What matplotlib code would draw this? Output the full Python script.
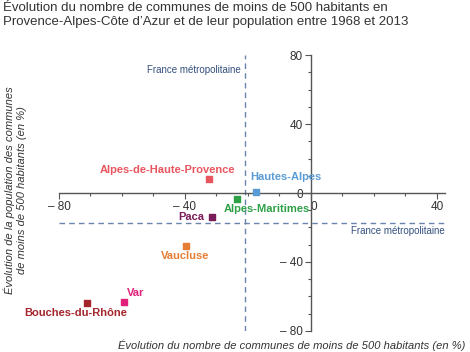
import matplotlib.pyplot as plt
from matplotlib.ticker import MultipleLocator

plt.rcParams['font.family'] = ['Liberation Sans', 'DejaVu Sans']

# data
names = ['Alpes-de-Haute-Provence', 'Hautes-Alpes', 'Alpes-Maritimes', 'Paca',
         'Vaucluse', 'Var', 'Bouches-du-Rhône']
x_vals = [-32.4, -17.5, -23.5, -31.4, -39.8, -59.5, -71.1]
y_vals = [8.1, 0.8, -3.7, -13.9, -30.5, -63.0, -63.6]
colors = ['#e8555e', '#5b9bd5', '#2ea048', '#7a1c58', '#e67e35', '#e0207a', '#a4262c']
# label centres
lab_x = [-45.7, -7.9, -14.0, -37.9, -40.0, -55.8, -74.6]
lab_y = [13.3, 9.4, -9.5, -13.7, -36.5, -58.2, -69.7]

france_x = -21
france_y = -17.4

fig = plt.figure(figsize=(4.7, 3.52), dpi=100)
ax = fig.add_axes([0.1255, 0.0597, 0.821, 0.784])
ax.set_xlim(-80, 42.5)
ax.set_ylim(-80, 80)

dash_col = '#6a84ad'
ax.axvline(france_x, color=dash_col, lw=1, ls=(0, (4, 3)), zorder=1)
ax.axhline(france_y, color=dash_col, lw=1, ls=(0, (4, 3)), zorder=1)
ax.text(france_x - 1.4, 71.3, 'France métropolitaine', color='#34507e', fontsize=7,
        ha='right', va='center')
ax.text(42.5, -22, 'France métropolitaine', color='#34507e', fontsize=7,
        ha='right', va='center')

for i in range(len(names)):
    ax.scatter(x_vals[i], y_vals[i], marker='s', s=22, color=colors[i], zorder=3)
    ax.text(lab_x[i], lab_y[i], names[i], color=colors[i], fontsize=8,
            fontweight='bold', ha='center', va='center')

# axes crossing at zero
for s in ['top', 'right']:
    ax.spines[s].set_visible(False)
ax.spines['left'].set_position(('data', 0))
ax.spines['bottom'].set_position(('data', 0))
for s in ['left', 'bottom']:
    ax.spines[s].set_color('#555555')
    ax.spines[s].set_linewidth(1)

ax.set_xticks([-80, -40, 0, 40], ['– 80', '– 40', '0', '40'])
ax.set_yticks([-80, -40, 0, 40, 80], ['– 80', '– 40', '0', '40', '80'])
ax.xaxis.set_minor_locator(MultipleLocator(10))
ax.yaxis.set_minor_locator(MultipleLocator(10))
ax.tick_params(which='major', length=4, width=0.8, color='#555555',
               labelsize=8.5, labelcolor='#333333', pad=2)
ax.tick_params(which='minor', length=2.5, width=0.8, color='#555555')
ax.get_xticklabels()[2].set_horizontalalignment('left')

fig.text(0.99, 0.004, 'Évolution du nombre de communes de moins de 500 habitants (en %)',
         fontsize=8, style='italic', color='#333333', ha='right', va='bottom')
fig.text(0.032, 0.46, 'Évolution de la population des communes\nde moins de 500 habitants (en %)',
         fontsize=8, style='italic', color='#333333', ha='center', va='center',
         rotation=90, multialignment='center')

fig.text(0.006, 0.993, 'Évolution du nombre de communes de moins de 500 habitants en\n'
         'Provence-Alpes-Côte d’Azur et de leur population entre 1968 et 2013',
         fontsize=9.5, color='#333333', ha='left', va='top', linespacing=1.2)

fig.savefig('out.png', dpi=100)
